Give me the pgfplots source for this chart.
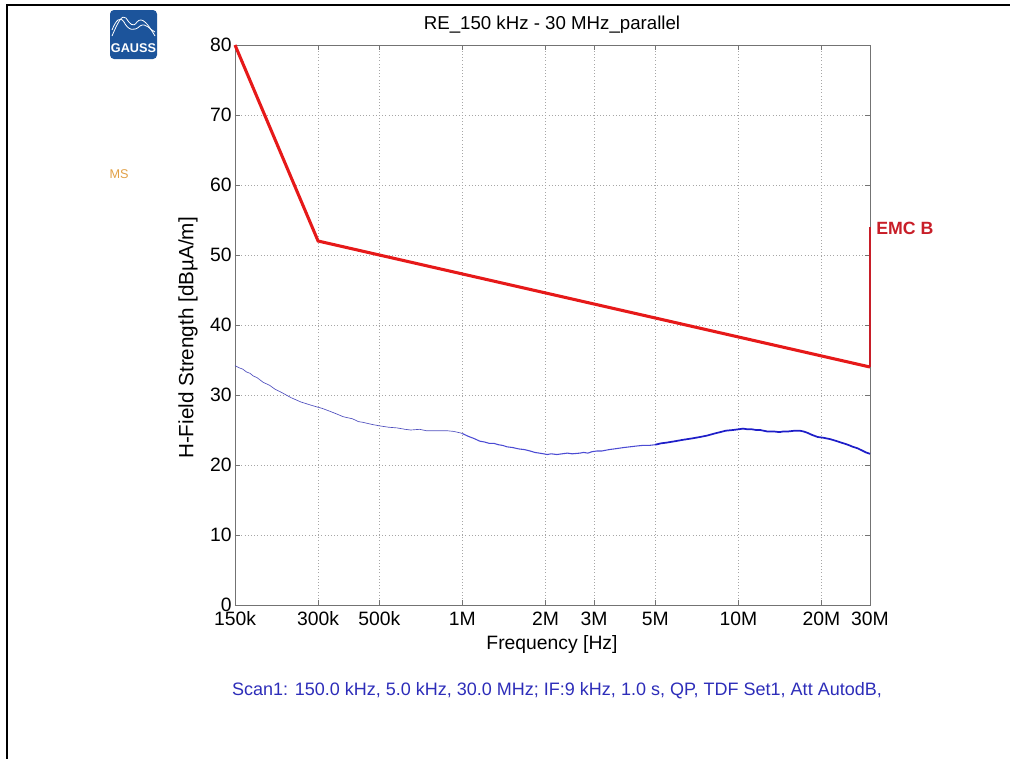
\documentclass[border=0pt]{standalone}
\usepackage{pgfplots}
\pgfplotsset{compat=1.18}
\usepackage{fontspec}
\setmainfont{Liberation Sans}
\definecolor{limred}{RGB}{230,25,25}
\definecolor{limdark}{RGB}{200,30,40}
\definecolor{meas}{RGB}{30,30,200}
\definecolor{measl}{RGB}{80,80,190}
\definecolor{gaussblue}{RGB}{28,84,155}
\definecolor{msorange}{RGB}{225,160,70}
\definecolor{scanblue}{RGB}{45,45,185}
\begin{document}
\begin{tikzpicture}
\useasboundingbox (0,0) rectangle (757.5pt,-568.5pt);
\draw[line width=1.5pt] (5.25pt,-570pt) -- (5.25pt,-3.75pt) -- (760pt,-3.75pt);
\begin{scope}[x=0.75pt,y=-0.75pt]
  % logo
  \fill[gaussblue,rounded corners=3pt] (110,10) rectangle (157,59);
  \draw[white,line width=0.6pt] (112,36) .. controls (118,22) and (122,14) .. (126,18) .. controls (130,24) and (133,28) .. (137,22) .. controls (142,16) and (148,24) .. (155,36);
  \draw[white,line width=0.6pt] (112,30) .. controls (116,20) and (120,16) .. (124,22) .. controls (128,30) and (134,32) .. (140,26) .. controls (146,22) and (150,30) .. (155,32);
  \node[white,font=\bfseries\fontsize{9.5}{10}\selectfont,inner sep=0pt] at (133.5,48) {GAUSS};
  \node[msorange,font=\fontsize{9.5}{10}\selectfont,inner sep=0pt] at (119,174) {MS};
  \node[font=\fontsize{14}{16}\selectfont,inner sep=0pt] at (552,25) {RE\_150 kHz - 30 MHz\_parallel};
  \node[limdark,font=\bfseries\fontsize{13.3}{15}\selectfont,inner sep=0pt,anchor=west] at (876,228) {EMC B};
  \node[font=\fontsize{15.5}{17}\selectfont,inner sep=0pt,rotate=90] at (188,338) {H-Field Strength [dBµA/m]};
  \node[font=\fontsize{14.5}{16}\selectfont,inner sep=0pt] at (552,644) {Frequency [Hz]};
  \node[scanblue,font=\fontsize{13.5}{15}\selectfont,inner sep=0pt] at (557,691) {Scan1: 150.0 kHz, 5.0 kHz, 30.0 MHz; IF:9 kHz, 1.0 s, QP, TDF Set1, Att AutodB,};
\end{scope}
\begin{axis}[
  at={(176.25pt,-453.75pt)}, anchor=south west,
  scale only axis, width=476.25pt, height=420pt,
  xmode=log, xmin=0.15, xmax=30, ymin=0, ymax=80,
  xtick={0.15,0.3,0.5,1,2,3,5,10,20,30},
  xticklabels={150k,300k,500k,1M,2M,3M,5M,10M,20M,30M},
  ytick={0,10,...,80},
  minor xtick={}, 
  log ticks with fixed point,
  /pgf/number format/assume math mode=true,
  ticklabel style={font=\fontsize{14.5}{16}\selectfont},
  xticklabel style={anchor=north, text height=10.5pt, text depth=0pt, inner sep=0pt, yshift=-5pt},
  yticklabel style={xshift=1pt},
  axis line style={black!55, line width=0.6pt},
  tick style={black!55, line width=0.6pt},
  major tick length=4pt,
  tick align=inside,
  xtick pos=both, ytick pos=both,
  grid=major,
  major grid style={black!35, dotted, line width=0.5pt},
  clip=false,
]
% limit line
\addplot[limred, line width=2.3pt] coordinates {(0.15,80) (0.3,52) (30,34)};
\addplot[limdark, line width=1.4pt] coordinates {(30,34) (30,54)};
% measurement
\addplot[measl, line width=0.5pt] coordinates {
(0.15,34.2) (0.155,33.9) (0.16,33.7) (0.165,33.3) (0.17,33.1) (0.175,32.7) (0.18,32.5)
(0.19,31.8) (0.20,31.4) (0.21,30.8) (0.218,30.5) (0.23,30.0) (0.24,29.6) (0.25,29.3)
(0.26,29.0) (0.27,28.8) (0.28,28.6) (0.297,28.3) (0.31,28.1) (0.33,27.7) (0.35,27.3)
(0.37,26.9) (0.40,26.6) (0.42,26.2) (0.436,26.1) (0.47,25.8) (0.5,25.6) (0.54,25.4)
(0.58,25.3) (0.62,25.1) (0.65,25.0) (0.70,25.1) (0.74,24.9) (0.763,24.9) (0.82,24.9)
(0.879,24.9) (0.93,24.8) (0.98,24.6) (1.0,24.5)};
\addplot[meas!80!white, line width=0.8pt] coordinates {
(1.0,24.5) (1.05,24.1) (1.1,23.8) (1.158,23.4) (1.2,23.3) (1.25,23.1) (1.3,23.1)
(1.35,22.9) (1.4,22.8) (1.45,22.6) (1.52,22.5) (1.6,22.3) (1.68,22.2) (1.76,22.0)
(1.83,21.8) (1.9,21.7) (1.97,21.6) (2.03,21.5) (2.1,21.6) (2.2,21.5) (2.3,21.6)
(2.4,21.7) (2.5,21.6) (2.67,21.7) (2.75,21.8) (2.85,21.7) (2.95,21.9) (3.07,22.0)
(3.2,22.0) (3.4,22.2) (3.55,22.3) (3.7,22.4) (3.85,22.5) (4.05,22.6) (4.25,22.7)
(4.5,22.8) (4.75,22.8) (5.0,22.9)};
\addplot[meas, line width=1.3pt] coordinates {
(5.0,22.9) (5.25,23.1) (5.5,23.2) (5.9,23.4) (6.3,23.6) (6.8,23.8) (7.26,24.0)
(7.7,24.2) (8.2,24.5) (8.6,24.7) (9.0,24.9) (9.56,25.0) (10.0,25.1) (10.4,25.2)
(10.8,25.1) (11.2,25.1) (11.6,25.0) (12.0,25.0) (12.7,24.8) (13.4,24.8) (14.1,24.7)
(14.6,24.8) (15.2,24.8) (16.0,24.9) (16.7,24.9) (17.2,24.8) (17.8,24.6) (18.5,24.3)
(19.4,24.0) (20.3,23.9) (21.5,23.7) (22.8,23.4) (23.6,23.2) (24.5,23.0) (25.3,22.8)
(26.0,22.6) (27.0,22.4) (28.0,22.1) (29.0,21.8) (30,21.6)};
\end{axis}
\end{tikzpicture}
\end{document}
